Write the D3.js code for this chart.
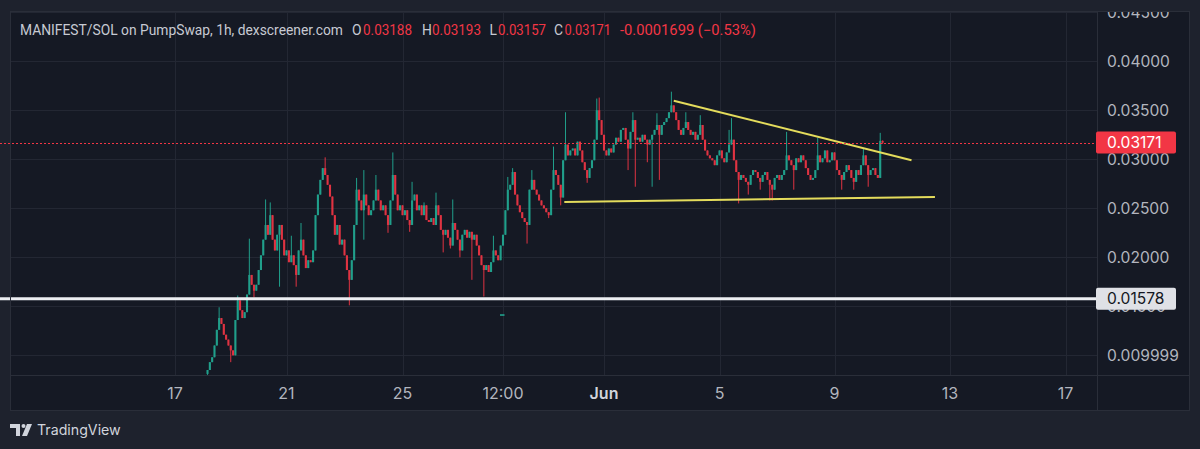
<!DOCTYPE html>
<html>
<head>
<meta charset="utf-8">
<script src="https://cdn.jsdelivr.net/npm/d3@7"></script>
<style>
  html, body { margin: 0; padding: 0; background: #1e222d; }
  svg { display: block; font-family: Inter, "Noto Sans", Roboto, sans-serif; }
</style>
</head>
<body>
<svg id="chart" width="1200" height="449"></svg>
<script>
// header / legend text
var pairTitle = "MANIFEST/SOL on PumpSwap, 1h, dexscreener.com";
var legendKeys = ["O", "H", "L", "C"];
var legendVals = ["0.03188", "0.03193", "0.03157", "0.03171"];
var legendChange = "-0.0001699 (\u22120.53%)";

// candles, 2h steps, open = previous close
var firstBarTime = new Date(Date.UTC(2025, 4, 18, 4));
var firstOpen = 0.0081;
var closes = [
  0.0085, 0.0093, 0.0098, 0.0110, 0.0126, 0.0138, 0.0132, 0.0121, 0.0116, 0.0110,
  0.0105, 0.0100, 0.0136, 0.0156, 0.0146, 0.0138, 0.0144, 0.0162, 0.0182, 0.0172,
  0.0166, 0.0172, 0.0187, 0.0202, 0.0218, 0.0233, 0.0223, 0.0243, 0.0218, 0.0207,
  0.0223, 0.0233, 0.0218, 0.0202, 0.0207, 0.0195, 0.0202, 0.0192, 0.0182, 0.0207,
  0.0218, 0.0202, 0.0189, 0.0197, 0.0195, 0.0207, 0.0243, 0.0264, 0.0279, 0.0291,
  0.0284, 0.0274, 0.0262, 0.0243, 0.0223, 0.0233, 0.0213, 0.0218, 0.0202, 0.0187,
  0.0177, 0.0197, 0.0233, 0.0269, 0.0258, 0.0248, 0.0264, 0.0253, 0.0243, 0.0248,
  0.0258, 0.0269, 0.0258, 0.0248, 0.0253, 0.0243, 0.0233, 0.0258, 0.0284, 0.0264,
  0.0248, 0.0253, 0.0243, 0.0248, 0.0238, 0.0233, 0.0258, 0.0264, 0.0248, 0.0253,
  0.0243, 0.0253, 0.0238, 0.0236, 0.0240, 0.0233, 0.0253, 0.0243, 0.0228, 0.0223,
  0.0228, 0.0220, 0.0212, 0.0235, 0.0228, 0.0218, 0.0207, 0.0223, 0.0228, 0.0220,
  0.0226, 0.0218, 0.0223, 0.0212, 0.0202, 0.0192, 0.0187, 0.0192, 0.0185, 0.0195,
  0.0207, 0.0202, 0.0197, 0.0212, 0.0223, 0.0248, 0.0269, 0.0274, 0.0287, 0.0264,
  0.0253, 0.0246, 0.0240, 0.0236, 0.0233, 0.0269, 0.0279, 0.0269, 0.0264, 0.0258,
  0.0253, 0.0250, 0.0246, 0.0243, 0.0269, 0.0289, 0.0284, 0.0274, 0.0261, 0.0299,
  0.0315, 0.0304, 0.0309, 0.0311, 0.0304, 0.0318, 0.0309, 0.0297, 0.0289, 0.0281,
  0.0291, 0.0299, 0.0320, 0.0350, 0.0340, 0.0325, 0.0309, 0.0304, 0.0311, 0.0307,
  0.0315, 0.0322, 0.0318, 0.0330, 0.0332, 0.0320, 0.0311, 0.0328, 0.0340, 0.0320,
  0.0322, 0.0318, 0.0325, 0.0320, 0.0315, 0.0320, 0.0325, 0.0330, 0.0335, 0.0325,
  0.0335, 0.0338, 0.0342, 0.0348, 0.0355, 0.0348, 0.0340, 0.0330, 0.0325, 0.0332,
  0.0338, 0.0330, 0.0325, 0.0328, 0.0320, 0.0325, 0.0335, 0.0320, 0.0309, 0.0304,
  0.0301, 0.0299, 0.0294, 0.0304, 0.0309, 0.0301, 0.0297, 0.0307, 0.0315, 0.0320,
  0.0299, 0.0287, 0.0279, 0.0284, 0.0281, 0.0277, 0.0274, 0.0284, 0.0289, 0.0287,
  0.0281, 0.0277, 0.0284, 0.0287, 0.0279, 0.0274, 0.0269, 0.0281, 0.0284, 0.0279,
  0.0284, 0.0289, 0.0304, 0.0299, 0.0294, 0.0289, 0.0301, 0.0297, 0.0304, 0.0299,
  0.0291, 0.0284, 0.0279, 0.0281, 0.0289, 0.0304, 0.0297, 0.0301, 0.0309, 0.0297,
  0.0299, 0.0307, 0.0299, 0.0289, 0.0284, 0.0279, 0.0287, 0.0294, 0.0289, 0.0281,
  0.0277, 0.0289, 0.0284, 0.0294, 0.0304, 0.0294, 0.0284, 0.0289, 0.0291, 0.0284,
  0.0281, 0.03188, 0.03171
];
// wick extremes beyond the body: [bar index, price]
var wickHighs = [
  [5, 0.0149], [13, 0.0161], [18, 0.0219], [25, 0.0259], [27, 0.0256], [36, 0.0222],
  [40, 0.0235], [50, 0.0302], [63, 0.0281], [66, 0.0289], [71, 0.0284], [78, 0.0307],
  [86, 0.0277], [91, 0.0256], [96, 0.0266], [103, 0.0259], [120, 0.0222], [126, 0.0282],
  [128, 0.0291], [136, 0.0289], [145, 0.0313], [150, 0.0348], [163, 0.0362], [164, 0.0363],
  [178, 0.0348], [188, 0.0347], [194, 0.0369], [200, 0.0348], [206, 0.0345], [218, 0.0330],
  [219, 0.0342], [242, 0.0328], [255, 0.0322], [274, 0.0311], [281, 0.0327], [282, 0.03193]
];
var wickLows = [
  [0, 0.0080], [10, 0.0093], [20, 0.0159], [31, 0.0170], [38, 0.0170], [60, 0.0151],
  [66, 0.0218], [76, 0.0225], [85, 0.0226], [99, 0.0205], [102, 0.0209], [106, 0.0200],
  [111, 0.0177], [116, 0.0160], [134, 0.0214], [143, 0.0240], [148, 0.0253], [159, 0.0276],
  [176, 0.0289], [179, 0.0272], [184, 0.0297], [186, 0.0272], [189, 0.0279], [222, 0.0255],
  [226, 0.0264], [231, 0.0269], [235, 0.0258], [236, 0.0258], [245, 0.0269], [265, 0.0269],
  [270, 0.0269], [276, 0.0272], [282, 0.03157]
];

// axes
var priceTicks = [0.045, 0.040, 0.035, 0.030, 0.025, 0.020, 0.015, 0.010];
var priceTickLabels = ["0.04500", "0.04000", "0.03500", "0.03000", "0.02500", "0.02000", "0.01500", "0.009999"];
var timeTicks = [
  new Date(Date.UTC(2025, 4, 17)), new Date(Date.UTC(2025, 4, 21)), new Date(Date.UTC(2025, 4, 25)),
  new Date(Date.UTC(2025, 4, 28, 12)), new Date(Date.UTC(2025, 5, 1)), new Date(Date.UTC(2025, 5, 5)),
  new Date(Date.UTC(2025, 5, 9)), new Date(Date.UTC(2025, 5, 13)), new Date(Date.UTC(2025, 5, 17))
];
var timeTickLabels = ["17", "21", "25", "12:00", "Jun", "5", "9", "13", "17"];

// price lines and drawings
var lastPrice = 0.03171;
var levelPrice = 0.01578;
var trendUpper = [[new Date(Date.UTC(2025, 5, 3, 10)), 0.03598], [new Date(Date.UTC(2025, 5, 11, 16)), 0.02990]];
var trendLower = [[new Date(Date.UTC(2025, 4, 30, 15)), 0.02564], [new Date(Date.UTC(2025, 5, 12, 11, 30)), 0.02615]];
var strayMark = [[new Date(Date.UTC(2025, 4, 28, 9, 30)), 0.01411], [new Date(Date.UTC(2025, 4, 28, 13, 15)), 0.01411]];

var W = 1200, H = 449;
var paneL = 10, paneR = 1097, paneT = 11, paneB = 375, axisB = 410, frameR = 1189;
var upColor = "#22ab94", downColor = "#f23645";

var svg = d3.select("#chart");

var x = d3.scaleUtc()
    .domain(timeTicks)
    .range([175, 286.5, 402.5, 503, 604, 719.5, 834.5, 950, 1065.5]);
var y = d3.scaleLinear().domain([0.0079898, 0.0451327]).range([paneB, paneT]);

var candles = closes.map(function(c, i) {
    var o = i === 0 ? firstOpen : closes[i - 1];
    var hi = wickHighs.find(function(w) { return w[0] === i; });
    var lo = wickLows.find(function(w) { return w[0] === i; });
    return {
        t: d3.utcHour.offset(firstBarTime, i * 2),
        o: o, c: c,
        h: Math.max(o, c, hi ? hi[1] : 0),
        l: Math.min(o, c, lo ? lo[1] : 1)
    };
});

// backgrounds
svg.append("rect").attr("width", W).attr("height", H).attr("fill", "#1e222d");
svg.append("rect").attr("x", paneL).attr("y", paneT).attr("width", frameR - paneL).attr("height", axisB - paneT)
    .attr("fill", "#151924");

svg.append("defs").append("clipPath").attr("id", "pane")
  .append("rect").attr("x", 0).attr("y", paneT).attr("width", paneR).attr("height", paneB - paneT);

// grid
var grid = svg.append("g").attr("stroke", "#232733").attr("stroke-width", 1);
grid.selectAll("line.h").data(priceTicks).join("line")
    .attr("x1", paneL).attr("x2", paneR)
    .attr("y1", function(d) { return Math.round(y(d)) + 0.5; })
    .attr("y2", function(d) { return Math.round(y(d)) + 0.5; });
grid.selectAll("line.v").data(timeTicks).join("line")
    .attr("y1", paneT).attr("y2", paneB)
    .attr("x1", function(d) { return Math.round(x(d)) + 0.5; })
    .attr("x2", function(d) { return Math.round(x(d)) + 0.5; });

var plot = svg.append("g").attr("clip-path", "url(#pane)");

// candles
var bars = plot.append("g").attr("opacity", 0.92);
bars.selectAll("line.wick").data(candles).join("line")
    .attr("x1", function(d) { return x(d.t); })
    .attr("x2", function(d) { return x(d.t); })
    .attr("y1", function(d) { return y(d.h); })
    .attr("y2", function(d) { return y(d.l); })
    .attr("stroke", function(d) { return d.c >= d.o ? upColor : downColor; })
    .attr("stroke-width", 1);
bars.selectAll("rect.body").data(candles).join("rect")
    .attr("x", function(d) { return x(d.t) - 1.05; })
    .attr("width", 2.1)
    .attr("y", function(d) { return y(Math.max(d.o, d.c)); })
    .attr("height", function(d) { return Math.max(1, Math.abs(y(d.o) - y(d.c))); })
    .attr("fill", function(d) { return d.c >= d.o ? upColor : downColor; });

// trendlines
var seg = d3.line().x(function(d) { return x(d[0]); }).y(function(d) { return y(d[1]); });
[trendUpper, trendLower].forEach(function(tl) {
    plot.append("path").attr("d", seg(tl)).attr("fill", "none")
        .attr("stroke", "#e4dc5c").attr("stroke-width", 2);
});
plot.append("path").attr("d", seg(strayMark)).attr("stroke", upColor).attr("stroke-width", 1.5);

// horizontal level + last price line
svg.append("line").attr("x1", 0).attr("x2", paneR)
    .attr("y1", y(levelPrice)).attr("y2", y(levelPrice))
    .attr("stroke", "#eceef2").attr("stroke-width", 3);
svg.append("line").attr("x1", 0).attr("x2", paneR)
    .attr("y1", Math.round(y(lastPrice)) + 0.5).attr("y2", Math.round(y(lastPrice)) + 0.5)
    .attr("stroke", downColor).attr("stroke-width", 1).attr("stroke-dasharray", "2,2");

// frame
var frame = svg.append("g").attr("stroke", "#2a2e39").attr("fill", "none");
frame.append("rect").attr("x", paneL + 0.5).attr("y", paneT + 0.5)
    .attr("width", frameR - paneL).attr("height", axisB - paneT);
frame.append("line").attr("x1", paneR + 0.5).attr("x2", paneR + 0.5).attr("y1", paneT).attr("y2", axisB);
frame.append("line").attr("x1", paneL).attr("x2", frameR).attr("y1", paneB + 0.5).attr("y2", paneB + 0.5);

// price axis
svg.append("defs").append("clipPath").attr("id", "paxis")
  .append("rect").attr("x", paneR).attr("y", paneT + 1).attr("width", frameR - paneR).attr("height", paneB - paneT);
var pax = svg.append("g").attr("clip-path", "url(#paxis)");
pax.selectAll("text").data(priceTicks).join("text")
    .attr("x", 1107).attr("y", function(d) { return y(d); })
    .attr("dy", "0.36em")
    .attr("fill", "#b2b5be").attr("font-size", 15.6)
    .text(function(d, i) { return priceTickLabels[i]; });

function priceTag(v, label, bg, fg) {
    var g = svg.append("g");
    g.append("rect").attr("x", 1096).attr("y", y(v) - 11).attr("width", 80).attr("height", 22)
        .attr("rx", 2).attr("fill", bg);
    g.append("text").attr("x", 1107).attr("y", y(v)).attr("dy", "0.36em")
        .attr("fill", fg).attr("font-size", 15.6).text(label);
}
priceTag(lastPrice, "0.03171", downColor, "#ffffff");
priceTag(levelPrice, "0.01578", "#dfe1e6", "#131722");

// time axis
svg.append("g").selectAll("text").data(timeTicks).join("text")
    .attr("x", function(d) { return x(d); })
    .attr("y", 393).attr("dy", "0.36em")
    .attr("text-anchor", "middle").attr("font-size", 16)
    .attr("fill", function(d, i) { return timeTickLabels[i] === "Jun" ? "#d1d4dc" : "#b2b5be"; })
    .attr("font-weight", function(d, i) { return timeTickLabels[i] === "Jun" ? 600 : 400; })
    .text(function(d, i) { return timeTickLabels[i]; });

// legend header
var head = svg.append("g").attr("font-family", "Roboto, Inter, sans-serif").attr("font-size", 13.8);
function headText(tx, px, len, col) {
    head.append("text").attr("x", px).attr("y", 30).attr("dy", "0.36em")
        .attr("textLength", len).attr("lengthAdjust", "spacingAndGlyphs")
        .attr("fill", col).text(tx);
}
headText(pairTitle, 20, 323, "#c7cad3");
var keyX = [352, 422, 489.5, 554], valX = [363, 432, 498, 564.5], valLen = [49, 49, 48, 46.5];
legendKeys.forEach(function(k, i) {
    head.append("text").attr("x", keyX[i]).attr("y", 30).attr("dy", "0.36em")
        .attr("fill", "#c7cad3").text(k);
    headText(legendVals[i], valX[i], valLen[i], "#f23645");
});
headText(legendChange, 620, 136, "#f23645");

// TradingView mark
var logo = svg.append("g").attr("fill", "#d1d4dc");
logo.append("path").attr("d", "M10 424h10v12h-4v-8h-6z");
logo.append("circle").attr("cx", 23.5).attr("cy", 426).attr("r", 2);
logo.append("path").attr("d", "M27 424h5l-5 12h-5z");
svg.append("text").attr("x", 37).attr("y", 430).attr("dy", "0.36em")
    .attr("font-size", 14.2).attr("fill", "#d1d4dc").text("TradingView");
</script>
</body>
</html>
